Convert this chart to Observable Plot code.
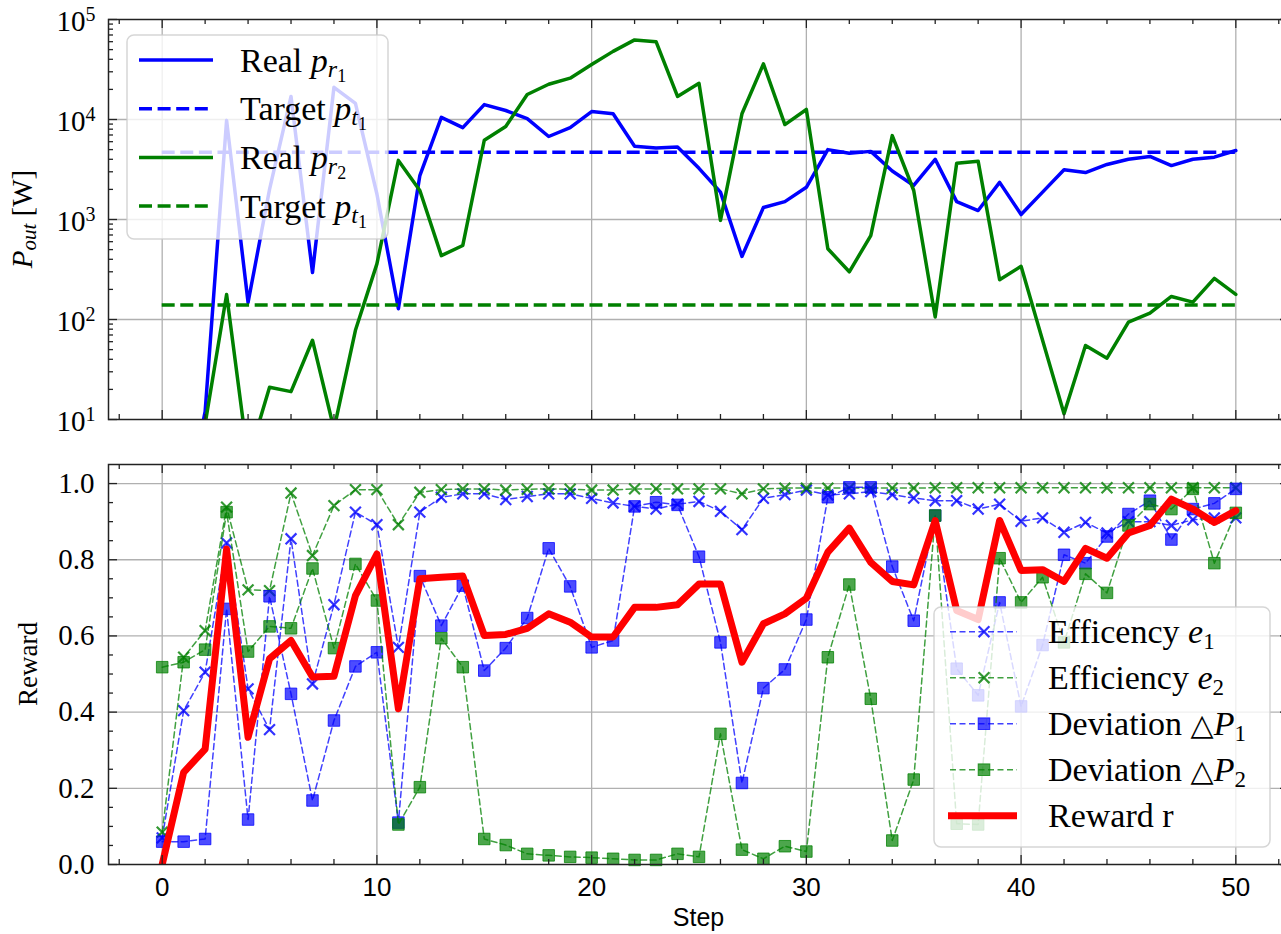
<!DOCTYPE html>
<html>
<head>
<meta charset="utf-8">
<script src="https://cdn.jsdelivr.net/npm/d3@7"></script>
<script src="https://cdn.jsdelivr.net/npm/@observablehq/plot@0.6"></script>
<style>
  html, body { margin: 0; padding: 0; background: #fff; overflow: hidden; }
  #wrap { position: relative; width: 1281px; height: 934px; overflow: hidden; background: #fff; }
  #top, #bot { position: absolute; left: 0; }
  #top { top: 0; }
  #bot { top: 440px; }
  #overlay { position: absolute; left: 0; top: 0; }
  #overlay text { white-space: pre; }
</style>
</head>
<body>
<div id="wrap">
  <div id="top"></div>
  <div id="bot"></div>
  <svg id="overlay" width="1281" height="934"></svg>
</div>
<script>
// ---------------- data ----------------
const steps = [0,1,2,3,4,5,6,7,8,9,10,11,12,13,14,15,16,17,18,19,20,21,22,23,24,25,26,27,28,29,30,31,32,33,34,35,36,37,38,39,40,41,42,43,44,45,46,47,48,49,50];

// top panel: output power [W]
const pReal1 = [1,1,12,9800,148,2000,17000,295,21000,14500,1800,128,2750,10500,8300,14100,12300,10200,6760,8300,12000,11400,5400,5200,5300,3250,1880,427,1320,1510,2100,5000,4600,4800,3050,2190,4000,1510,1230,2350,1120,1880,3150,2950,3550,4000,4270,3460,4000,4200,4900];
const pReal2 = [1,1,9,178,4,21,19,62,8,78,360,3900,1950,435,550,6200,8500,17800,22500,25900,35500,48000,62500,60000,17000,23000,980,11400,36000,8900,12600,510,300,690,6900,1950,106,3650,3830,250,340,62,11.4,55,41,94,116,170,149,258,178];
const pTarget1 = 4700;
const pTarget2 = 140;

// bottom panel: reward components
const eff1 = [0.07,0.404,0.505,0.844,0.461,0.354,0.855,0.474,0.682,0.925,0.892,0.570,0.925,0.964,0.973,0.973,0.958,0.966,0.973,0.973,0.961,0.949,0.940,0.933,0.946,0.953,0.927,0.879,0.961,0.971,0.983,0.970,0.973,0.979,0.971,0.962,0.955,0.955,0.933,0.946,0.901,0.910,0.872,0.898,0.870,0.900,0.900,0.890,0.905,0.910,0.910];
const eff2 = [0.085,0.544,0.614,0.938,0.721,0.719,0.975,0.811,0.942,0.984,0.984,0.892,0.977,0.984,0.986,0.986,0.983,0.985,0.986,0.985,0.983,0.983,0.986,0.986,0.986,0.986,0.986,0.973,0.986,0.988,0.988,0.988,0.988,0.988,0.988,0.988,0.989,0.989,0.989,0.989,0.989,0.989,0.989,0.989,0.989,0.989,0.989,0.989,0.989,0.989,0.989];
const dev1 = [0.060,0.060,0.067,0.671,0.118,0.704,0.448,0.168,0.378,0.520,0.557,0.110,0.757,0.627,0.732,0.509,0.568,0.647,0.830,0.730,0.570,0.588,0.940,0.951,0.944,0.808,0.583,0.214,0.463,0.512,0.643,0.964,0.990,0.990,0.782,0.640,0.916,0.514,0.444,0.688,0.415,0.576,0.813,0.791,0.861,0.920,0.955,0.853,0.933,0.948,0.986];
const dev2 = [0.518,0.531,0.564,0.925,0.559,0.625,0.620,0.777,0.568,0.789,0.693,0.105,0.203,0.594,0.518,0.067,0.051,0.028,0.024,0.020,0.018,0.015,0.012,0.012,0.028,0.020,0.343,0.039,0.015,0.048,0.034,0.544,0.735,0.435,0.063,0.223,0.916,0.107,0.105,0.804,0.688,0.754,0.583,0.763,0.713,0.890,0.946,0.933,0.986,0.791,0.923];
const reward = [0.0,0.242,0.303,0.828,0.334,0.540,0.588,0.492,0.494,0.706,0.815,0.409,0.750,0.754,0.757,0.601,0.604,0.620,0.658,0.636,0.597,0.597,0.675,0.675,0.682,0.736,0.736,0.531,0.632,0.658,0.699,0.820,0.883,0.793,0.743,0.734,0.903,0.667,0.643,0.903,0.772,0.774,0.743,0.830,0.804,0.870,0.890,0.959,0.933,0.898,0.929];

// ticks
const xMajorTicks = [0,10,20,30,40,50];
const xMinorTicks = [-2,2,4,6,8,12,14,16,18,22,24,26,28,32,34,36,38,42,44,46,48,52];
const yLogTicks = [10,100,1000,10000,100000];
const yLogGrid = [100,1000,10000];
const yLogMinor = [20,30,40,50,60,70,80,90,200,300,400,500,600,700,800,900,2000,3000,4000,5000,6000,7000,8000,9000,20000,30000,40000,50000,60000,70000,80000,90000];
const yLinTicks = [0,0.2,0.4,0.6,0.8,1.0];
const yLinGrid = [0.2,0.4,0.6,0.8,1.0];
const yLinMinor = [0.05,0.1,0.15,0.25,0.3,0.35,0.45,0.5,0.55,0.65,0.7,0.75,0.85,0.9,0.95];

// labels
const topLegendLabels = [
  ["Real ", "p", "r", "1"],
  ["Target ", "p", "t", "1"],
  ["Real ", "p", "r", "2"],
  ["Target ", "p", "t", "1"]
];
const botLegendLabels = [
  ["Efficency ", "", "e", "1"],
  ["Efficiency ", "", "e", "2"],
  ["Deviation ", "△", "P", "1"],
  ["Deviation ", "△", "P", "2"],
  ["Reward r", "", "", ""]
];
const xLabel = "Step";
const yLabelBottom = "Reward";

// ---------------- styles ----------------
const BLUE = "#0000ff", GREEN = "#008000", RED = "#ff0000";
const AX = "#222222", GRID = "#b0b0b0";
const SERIF = "'Liberation Serif', 'Times New Roman', serif";
const SANS = "'Liberation Sans', Arial, sans-serif";
const W = 1300, ML = 108, MR = 11;
const FW = W - ML - MR, FH = 400;
const MAJ = 9, MIN = 5;
const THICK_DASH = "13,5.6";
const THIN_DASH = "6,3.5";

const mk = arr => steps.map((s, i) => ({step: s, v: arr[i]}));

function tickMarks(yMajor, yMinor) {
  const o = {stroke: AX, strokeWidth: 1.3};
  return [
    Plot.tickX(xMajorTicks, {x: d => d, insetTop: FH - MAJ, ...o}),
    Plot.tickX(xMajorTicks, {x: d => d, insetBottom: FH - MAJ, ...o}),
    Plot.tickX(xMinorTicks, {x: d => d, insetTop: FH - MIN, ...o}),
    Plot.tickX(xMinorTicks, {x: d => d, insetBottom: FH - MIN, ...o}),
    Plot.tickY(yMajor, {y: d => d, insetRight: FW - MAJ, ...o}),
    Plot.tickY(yMinor, {y: d => d, insetRight: FW - MIN, ...o}),
    Plot.tickY(yMajor, {y: d => d, insetLeft: FW - MAJ, ...o}),
    Plot.tickY(yMinor, {y: d => d, insetLeft: FW - MIN, ...o})
  ];
}

function styleTickLabels(svg, axis, family, size) {
  d3.select(svg).selectAll(`g[aria-label="${axis}-axis tick label"]`)
    .attr("font-family", family).attr("font-size", size)
    .selectAll("text").attr("font-family", family).attr("font-size", size);
}

// ---------------- top panel ----------------
const topPlot = Plot.plot({
  width: W, height: 440,
  marginLeft: ML, marginRight: MR, marginTop: 19, marginBottom: 21,
  style: {background: "transparent", maxWidth: "none", fontFamily: SERIF, overflow: "visible"},
  x: {domain: [-2.5, 52.5], axis: null},
  y: {type: "log", domain: [10, 1e5]},
  marks: [
    Plot.gridX(xMajorTicks, {stroke: GRID, strokeOpacity: 1, strokeWidth: 1.3}),
    Plot.gridY(yLogGrid, {stroke: GRID, strokeOpacity: 1, strokeWidth: 1.3}),
    Plot.line(mk(pReal1), {x: "step", y: "v", stroke: BLUE, strokeWidth: 3.5, clip: true, strokeLinejoin: "round"}),
    Plot.ruleY([pTarget1], {x1: steps[0], x2: steps[steps.length - 1], stroke: BLUE, strokeWidth: 3.5, strokeDasharray: THICK_DASH}),
    Plot.line(mk(pReal2), {x: "step", y: "v", stroke: GREEN, strokeWidth: 3.5, clip: true, strokeLinejoin: "round"}),
    Plot.ruleY([pTarget2], {x1: steps[0], x2: steps[steps.length - 1], stroke: GREEN, strokeWidth: 3.5, strokeDasharray: THICK_DASH}),
    ...tickMarks(yLogTicks, yLogMinor),
    Plot.frame({stroke: AX, strokeWidth: 1.5}),
    Plot.axisY(yLogTicks, {tickSize: 0, tickPadding: 13, fontSize: 29, fontFamily: SERIF, fill: "#000", dy: 2,
      tickFormat: d => "E" + Math.round(Math.log10(d)), label: null})
  ]
});
document.getElementById("top").appendChild(topPlot);
styleTickLabels(topPlot, "y", SERIF, 29);
// rewrite log tick labels as 10 with superscript exponent
d3.select(topPlot).selectAll('g[aria-label="y-axis tick label"] text').each(function() {
  const t = d3.select(this);
  const e = t.text().slice(1);
  t.text("");
  t.append("tspan").text("10");
  t.append("tspan").attr("font-size", 20).attr("dy", -10).text(e);
});

// ---------------- bottom panel ----------------
const botPlot = Plot.plot({
  width: W, height: 494,
  marginLeft: ML, marginRight: MR, marginTop: 24, marginBottom: 70,
  style: {background: "transparent", maxWidth: "none", fontFamily: SERIF, overflow: "visible"},
  x: {domain: [-2.5, 52.5]},
  y: {domain: [0, 1.05]},
  marks: [
    Plot.gridX(xMajorTicks, {stroke: GRID, strokeOpacity: 1, strokeWidth: 1.3}),
    Plot.gridY(yLinGrid, {stroke: GRID, strokeOpacity: 1, strokeWidth: 1.3}),
    // e1
    Plot.line(mk(eff1), {x: "step", y: "v", stroke: BLUE, strokeWidth: 1.5, strokeOpacity: 0.75, strokeDasharray: THIN_DASH}),
    Plot.dot(mk(eff1), {x: "step", y: "v", symbol: "times", r: 5, stroke: BLUE, strokeWidth: 2.2, strokeOpacity: 0.8}),
    // e2
    Plot.line(mk(eff2), {x: "step", y: "v", stroke: GREEN, strokeWidth: 1.5, strokeOpacity: 0.75, strokeDasharray: THIN_DASH}),
    Plot.dot(mk(eff2), {x: "step", y: "v", symbol: "times", r: 5, stroke: GREEN, strokeWidth: 2.2, strokeOpacity: 0.8}),
    // dev1
    Plot.line(mk(dev1), {x: "step", y: "v", stroke: BLUE, strokeWidth: 1.5, strokeOpacity: 0.75, strokeDasharray: THIN_DASH}),
    Plot.dot(mk(dev1), {x: "step", y: "v", symbol: "square", r: 6.5, fill: BLUE, fillOpacity: 0.7, stroke: BLUE, strokeOpacity: 0.75, strokeWidth: 1}),
    // dev2
    Plot.line(mk(dev2), {x: "step", y: "v", stroke: GREEN, strokeWidth: 1.5, strokeOpacity: 0.75, strokeDasharray: THIN_DASH}),
    Plot.dot(mk(dev2), {x: "step", y: "v", symbol: "square", r: 6.5, fill: GREEN, fillOpacity: 0.7, stroke: GREEN, strokeOpacity: 0.75, strokeWidth: 1}),
    // reward
    Plot.line(mk(reward), {x: "step", y: "v", stroke: RED, strokeWidth: 7, strokeLinejoin: "round", clip: true}),
    ...tickMarks(yLinTicks, yLinMinor),
    Plot.frame({stroke: AX, strokeWidth: 1.5}),
    Plot.axisY(yLinTicks, {tickSize: 0, tickPadding: 14, fontSize: 29, fontFamily: SERIF, fill: "#000",
      tickFormat: d => d.toFixed(1), label: null}),
    Plot.axisX(xMajorTicks, {tickSize: 0, tickPadding: 13, fontSize: 26, fontFamily: SANS, fill: "#000",
      tickFormat: d => String(d), label: null})
  ]
});
document.getElementById("bot").appendChild(botPlot);
styleTickLabels(botPlot, "y", SERIF, 29);
styleTickLabels(botPlot, "x", SANS, 26);

// ---------------- overlay: axis labels and legends ----------------
const ov = d3.select("#overlay");

function richText(g, x, y, size, parts) {
  const t = g.append("text").attr("x", x).attr("y", y)
    .attr("font-family", SERIF).attr("font-size", size).attr("fill", "#000");
  parts.forEach(p => {
    if (p.t === "") return;
    const ts = t.append("tspan").text(p.t);
    if (p.i) ts.attr("font-style", "italic");
    if (p.s) ts.attr("font-size", p.s);
    if (p.dy) ts.attr("dy", p.dy);
    if (p.f) ts.attr("font-family", p.f);
  });
  return t;
}

// y label, top: P_out [W]
richText(ov.append("g").attr("transform", "translate(32,219) rotate(-90)"), 0, 0, 29, [
  {t: "P", i: 1}, {t: "out", i: 1, s: 21, dy: 4}, {t: " [W]", s: 29, dy: -4}
]).attr("text-anchor", "middle");

// y label, bottom: Reward
ov.append("text").attr("transform", "translate(37,664) rotate(-90)")
  .attr("text-anchor", "middle").attr("font-family", SERIF).attr("font-size", 27).attr("fill", "#000")
  .text(yLabelBottom);

// x label
ov.append("text").attr("x", 698.5).attr("y", 926).attr("text-anchor", "middle")
  .attr("font-family", SANS).attr("font-size", 25).attr("fill", "#000").text(xLabel);

// top legend
const tl = ov.append("g");
tl.append("rect").attr("x", 127).attr("y", 35).attr("width", 261).attr("height", 204).attr("rx", 7)
  .attr("fill", "#ffffff").attr("fill-opacity", 0.8).attr("stroke", "#cccccc").attr("stroke-opacity", 0.8).attr("stroke-width", 1.5);
const topHandles = [
  {c: BLUE, d: null}, {c: BLUE, d: THICK_DASH}, {c: GREEN, d: null}, {c: GREEN, d: THICK_DASH}
];
topLegendLabels.forEach((lab, i) => {
  const y = 60 + i * 48.7;
  tl.append("line").attr("x1", 139).attr("x2", 213).attr("y1", y).attr("y2", y)
    .attr("stroke", topHandles[i].c).attr("stroke-width", 3.5).attr("stroke-dasharray", topHandles[i].d);
  richText(tl, 240, y + 11.5, 34, [
    {t: lab[0]}, {t: lab[1], i: 1}, {t: lab[2], i: 1, s: 24, dy: 5}, {t: lab[3], s: 18, dy: 5}
  ]);
});

// bottom legend
const bl = ov.append("g");
bl.append("rect").attr("x", 934).attr("y", 607).attr("width", 336).attr("height", 240).attr("rx", 7)
  .attr("fill", "#ffffff").attr("fill-opacity", 0.8).attr("stroke", "#cccccc").attr("stroke-opacity", 0.8).attr("stroke-width", 1.5);
const botHandles = [
  {c: BLUE, m: "x"}, {c: GREEN, m: "x"}, {c: BLUE, m: "s"}, {c: GREEN, m: "s"}, {c: RED, m: null}
];
botLegendLabels.forEach((lab, i) => {
  const y = 631.7 + i * 46;
  const h = botHandles[i];
  if (h.m === null) {
    bl.append("line").attr("x1", 948).attr("x2", 1017).attr("y1", y).attr("y2", y)
      .attr("stroke", h.c).attr("stroke-width", 7);
  } else {
    bl.append("line").attr("x1", 950).attr("x2", 1017).attr("y1", y).attr("y2", y)
      .attr("stroke", h.c).attr("stroke-width", 1.5).attr("stroke-opacity", 0.75).attr("stroke-dasharray", THIN_DASH);
    const cx = 984;
    if (h.m === "x") {
      bl.append("path").attr("d", `M${cx-5.4},${y-5.4}L${cx+5.4},${y+5.4}M${cx-5.4},${y+5.4}L${cx+5.4},${y-5.4}`)
        .attr("stroke", h.c).attr("stroke-width", 2.2).attr("stroke-opacity", 0.8).attr("fill", "none");
    } else {
      bl.append("rect").attr("x", cx - 5.8).attr("y", y - 5.8).attr("width", 11.6).attr("height", 11.6)
        .attr("fill", h.c).attr("fill-opacity", 0.7).attr("stroke", h.c).attr("stroke-opacity", 0.75);
    }
  }
  richText(bl, 1048, y + 11, 34, [
    {t: lab[0]}, {t: lab[1], f: "'DejaVu Sans', sans-serif", s: 30}, {t: lab[2], i: 1, s: 34}, {t: lab[3], s: 23, dy: 6}
  ]);
});
</script>
</body>
</html>
